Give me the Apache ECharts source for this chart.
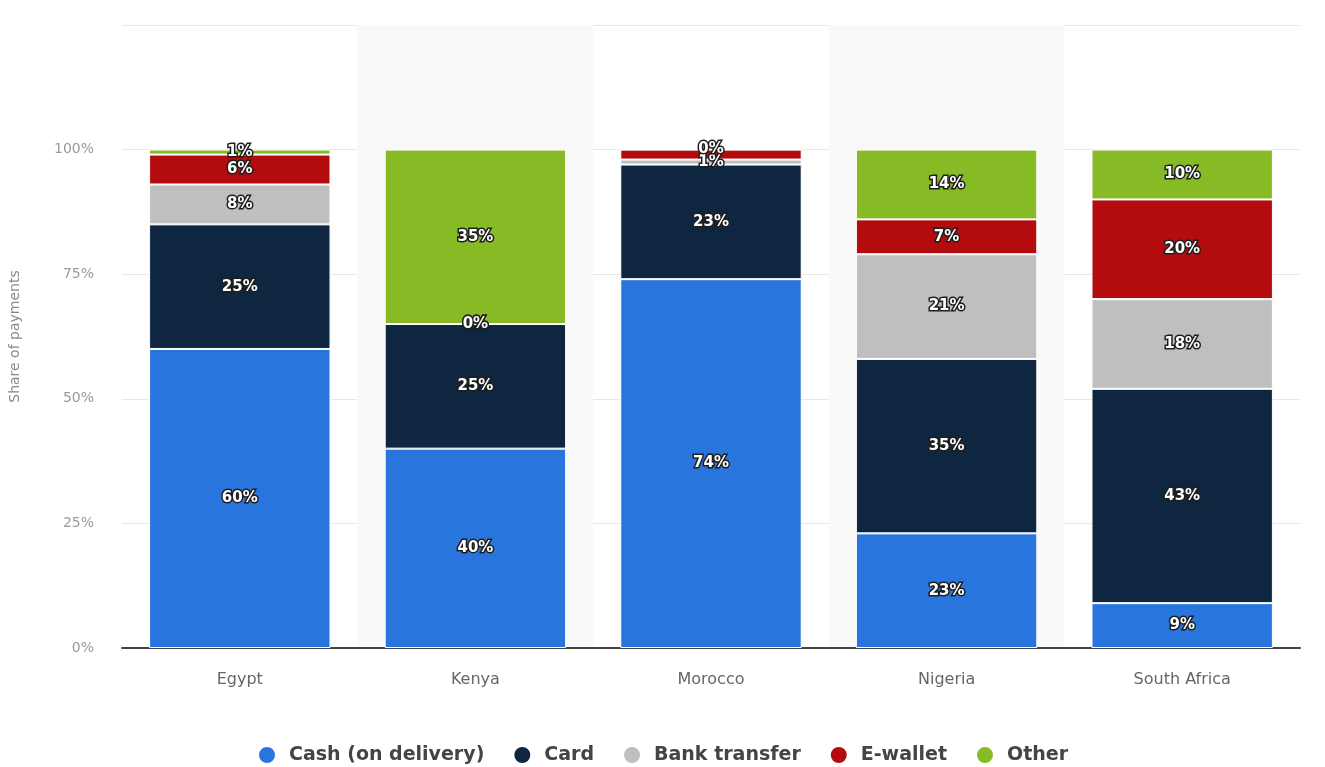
<!DOCTYPE html>
<html>
<head>
<meta charset="utf-8">
<script src="https://cdn.jsdelivr.net/npm/echarts@6/dist/echarts.min.js"></script>
<style>
  html, body { margin: 0; padding: 0; background: #fff; }
  #chart { width: 1325px; height: 767px; }
</style>
</head>
<body>
<div id="chart"></div>
<script>
// Payment method shares by country (percent of payments)
const countries = ['Egypt', 'Kenya', 'Morocco', 'Nigeria', 'South Africa'];
const cash = [60, 40, 74, 23, 9];
const card = [25, 25, 23, 35, 43];
const bankTransfer = [8, 0, 1, 21, 18];
const eWallet = [6, 0, 2, 7, 20];
const other = [1, 35, 0, 14, 10];
const yTicks = [0, 25, 50, 75, 100];

const seriesDefs = [
  { name: 'Cash (on delivery)', values: cash, color: '#2876dd' },
  { name: 'Card', values: card, color: '#0f2641' },
  { name: 'Bank transfer', values: bankTransfer, color: '#bfbfbf' },
  { name: 'E-wallet', values: eWallet, color: '#b30b0e' },
  { name: 'Other', values: other, color: '#87bb26' }
];

const FONT = 'DejaVu Sans, sans-serif';
const chart = echarts.init(document.getElementById('chart'));

const labelStyle = {
  show: true,
  position: 'inside',
  formatter: p => p.value + '%',
  color: '#ffffff',
  fontFamily: FONT,
  fontWeight: 'bold',
  fontSize: 15,
  textBorderColor: '#1e1e1e',
  textBorderWidth: 3
};

const series = seriesDefs.map(def => ({
  name: def.name,
  type: 'bar',
  stack: 'total',
  barWidth: '77%',
  data: def.values.map((v, i) => {
    // the thin Moroccan e-wallet slice sits under the "Other" label
    if (def.name === 'E-wallet' && countries[i] === 'Morocco') {
      return { value: v, label: { show: false } };
    }
    return v;
  }),
  itemStyle: { color: def.color, borderColor: '#ffffff', borderWidth: 1 },
  label: labelStyle,
  emphasis: { disabled: true }
}));

chart.setOption({
  animation: false,
  backgroundColor: '#ffffff',
  textStyle: { fontFamily: FONT },
  grid: { left: 120, right: 25, top: 25, bottom: 119 },
  legend: {
    bottom: -3,
    left: 'center',
    icon: 'circle',
    itemWidth: 18,
    itemHeight: 18,
    itemGap: 28,
    textStyle: {
      color: '#444444',
      fontSize: 19,
      fontWeight: 'bold',
      fontFamily: FONT,
      padding: [0, 0, 0, 8]
    },
    data: seriesDefs.map(d => d.name)
  },
  xAxis: {
    type: 'category',
    data: countries,
    axisTick: { show: false },
    axisLine: { lineStyle: { color: '#444444', width: 2 } },
    axisLabel: { color: '#666666', fontSize: 16, margin: 24 },
    splitArea: { show: true, areaStyle: { color: ['rgba(255,255,255,0)', '#f9f9f9'] } }
  },
  yAxis: {
    type: 'value',
    min: 0,
    max: 125,
    interval: 25,
    name: 'Share of payments',
    nameLocation: 'middle',
    nameGap: 100,
    nameTextStyle: { color: '#8a8a8a', fontSize: 14 },
    axisLabel: {
      color: '#9a9a9a',
      fontSize: 14,
      margin: 28,
      formatter: v => yTicks.includes(v) ? v + '%' : ''
    },
    axisLine: { show: false },
    axisTick: { show: false },
    splitLine: { lineStyle: { color: '#e8e8e8', width: 1 } }
  },
  series: series
});
</script>
</body>
</html>
